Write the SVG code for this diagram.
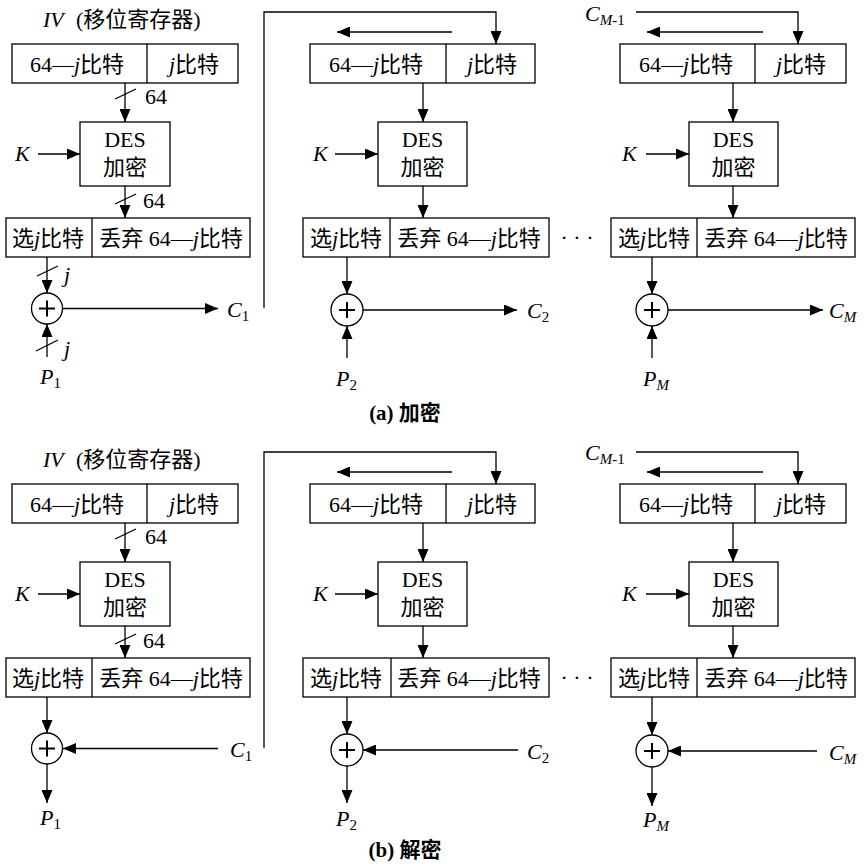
<svg xmlns="http://www.w3.org/2000/svg" width="864" height="864" viewBox="0 0 864 864">
<style>
.t{font-family:"Liberation Serif","Noto Sans CJK SC",serif;font-size:22px;fill:#000}
.i{font-style:italic}
.s{font-size:15px}
.b{font-weight:bold;font-size:21px}
.m{text-anchor:middle}
.bx{fill:#fff;stroke:#000;stroke-width:1.3}
.ln{fill:none;stroke:#000;stroke-width:1.3}
.ar{fill:none;stroke:#000;stroke-width:1.3;marker-end:url(#ah)}
.pl{stroke:#000;stroke-width:2}
</style>
<defs>
<marker id="ah" viewBox="0 0 13 11" refX="13" refY="5.5" markerWidth="13" markerHeight="11" markerUnits="userSpaceOnUse" orient="auto"><path d="M0,0 L13,5.5 L0,11 z" fill="#000"/></marker>
</defs>

<g id="connectors">
<!-- (a) col1 -->
<line class="ar" x1="125" y1="83" x2="125" y2="122"/>
<line class="ln" x1="115" y1="99" x2="136" y2="89"/>
<line class="ar" x1="38" y1="154" x2="80" y2="154"/>
<line class="ar" x1="125" y1="186" x2="125" y2="218"/>
<line class="ln" x1="115" y1="204" x2="136" y2="194"/>
<line class="ar" x1="47" y1="257" x2="47" y2="293"/>
<line class="ln" x1="37" y1="276" x2="58" y2="266"/>
<line class="ar" x1="63" y1="308.5" x2="218" y2="308.5"/>
<line class="ar" x1="47" y1="357" x2="47" y2="324"/>
<line class="ln" x1="36" y1="351" x2="58" y2="340"/>
<polyline class="ar" points="264,308 264,12 496,12 496,44"/>
<!-- (a) col2 -->
<line class="ar" x1="452" y1="32" x2="337" y2="32"/>
<line class="ar" x1="423" y1="83" x2="423" y2="122"/>
<line class="ar" x1="335" y1="154" x2="378" y2="154"/>
<line class="ar" x1="423" y1="186" x2="423" y2="218"/>
<line class="ar" x1="347" y1="257" x2="347" y2="294"/>
<line class="ar" x1="363" y1="310" x2="517" y2="310"/>
<line class="ar" x1="347" y1="358" x2="347" y2="326"/>
<!-- (a) col3 -->
<polyline class="ar" points="636,12 798,12 798,44"/>
<line class="ar" x1="763" y1="32" x2="647" y2="32"/>
<line class="ar" x1="733" y1="83" x2="733" y2="122"/>
<line class="ar" x1="646" y1="154" x2="689" y2="154"/>
<line class="ar" x1="733" y1="186" x2="733" y2="218"/>
<line class="ar" x1="652" y1="257" x2="652" y2="294"/>
<line class="ar" x1="668" y1="310" x2="823" y2="310"/>
<line class="ar" x1="652" y1="358" x2="652" y2="326"/>

<!-- (b) col1 -->
<line class="ar" x1="125" y1="523" x2="125" y2="562"/>
<line class="ln" x1="115" y1="539" x2="136" y2="529"/>
<line class="ar" x1="38" y1="594" x2="80" y2="594"/>
<line class="ar" x1="125" y1="626" x2="125" y2="658"/>
<line class="ln" x1="115" y1="644" x2="136" y2="634"/>
<line class="ar" x1="47" y1="697" x2="47" y2="733"/>
<line class="ar" x1="218" y1="748.5" x2="63" y2="748.5"/>
<line class="ar" x1="47" y1="764" x2="47" y2="803"/>
<polyline class="ar" points="264,748 264,452 496,452 496,484"/>
<!-- (b) col2 -->
<line class="ar" x1="452" y1="472" x2="337" y2="472"/>
<line class="ar" x1="423" y1="523" x2="423" y2="562"/>
<line class="ar" x1="335" y1="594" x2="378" y2="594"/>
<line class="ar" x1="423" y1="626" x2="423" y2="658"/>
<line class="ar" x1="347" y1="697" x2="347" y2="734"/>
<line class="ar" x1="518" y1="750" x2="363" y2="750"/>
<line class="ar" x1="347" y1="766" x2="347" y2="803"/>
<!-- (b) col3 -->
<polyline class="ar" points="636,452 798,452 798,484"/>
<line class="ar" x1="763" y1="472" x2="647" y2="472"/>
<line class="ar" x1="733" y1="523" x2="733" y2="562"/>
<line class="ar" x1="646" y1="594" x2="689" y2="594"/>
<line class="ar" x1="733" y1="626" x2="733" y2="658"/>
<line class="ar" x1="652" y1="697" x2="652" y2="735"/>
<line class="ar" x1="817" y1="751" x2="668" y2="751"/>
<line class="ar" x1="652" y1="767" x2="652" y2="806"/>
</g>

<!-- ===== (a) ===== -->
<g id="a-iv-label"><text class="t" x="43" y="27"><tspan class="i">IV</tspan><tspan x="76">(移位寄存器)</tspan></text></g>
<g id="a-reg1"><rect class="bx" x="12" y="44" width="226" height="39"/><line class="ln" x1="147" y1="44" x2="147" y2="83"/>
<text class="t m" x="77" y="72">64—<tspan class="i">j</tspan>比特</text><text class="t m" x="194" y="72"><tspan class="i">j</tspan>比特</text></g>
<g id="a-w1"><text class="t" x="145" y="104">64</text></g>
<g id="a-des1"><rect class="bx" x="80" y="122" width="90" height="64"/><text class="t m" x="125" y="147">DES</text><text class="t m" x="125" y="175">加密</text></g>
<g id="a-k1"><text class="t i" x="15" y="161">K</text></g>
<g id="a-w2"><text class="t" x="143" y="208">64</text></g>
<g id="a-sel1"><rect class="bx" x="6" y="218" width="244" height="39"/><line class="ln" x1="92" y1="218" x2="92" y2="257"/>
<text class="t m" x="48" y="246">选<tspan class="i">j</tspan>比特</text><text class="t m" x="171" y="246">丢弃 64—<tspan class="i">j</tspan>比特</text></g>
<g id="a-wj1"><text class="t i" x="64" y="282">j</text></g>
<g id="a-xor1"><circle class="bx" cx="47" cy="308.5" r="15.5"/><line class="pl" x1="39" y1="308.5" x2="55" y2="308.5"/><line class="pl" x1="47" y1="300.5" x2="47" y2="316.5"/></g>
<g id="a-c1"><text class="t i" x="227" y="317">C<tspan class="s" font-style="normal" dy="4">1</tspan></text></g>
<g id="a-wj2"><text class="t i" x="64" y="356">j</text></g>
<g id="a-p1"><text class="t i" x="40" y="384">P<tspan class="s" font-style="normal" dy="4">1</tspan></text></g>

<g id="a-reg2"><rect class="bx" x="310" y="44" width="225" height="39"/><line class="ln" x1="446" y1="44" x2="446" y2="83"/>
<text class="t m" x="376" y="72">64—<tspan class="i">j</tspan>比特</text><text class="t m" x="492" y="72"><tspan class="i">j</tspan>比特</text></g>
<g id="a-des2"><rect class="bx" x="378" y="122" width="89" height="64"/><text class="t m" x="422.5" y="147">DES</text><text class="t m" x="422.5" y="175">加密</text></g>
<g id="a-k2"><text class="t i" x="313" y="161">K</text></g>
<g id="a-sel2"><rect class="bx" x="303" y="218" width="246" height="39"/><line class="ln" x1="390" y1="218" x2="390" y2="257"/>
<text class="t m" x="346" y="246">选<tspan class="i">j</tspan>比特</text><text class="t m" x="469" y="246">丢弃 64—<tspan class="i">j</tspan>比特</text></g>
<g id="a-dots"><text class="t m" x="577" y="245">· · ·</text></g>
<g id="a-xor2"><circle class="bx" cx="347" cy="310" r="16"/><line class="pl" x1="339" y1="310" x2="355" y2="310"/><line class="pl" x1="347" y1="302" x2="347" y2="318"/></g>
<g id="a-c2"><text class="t i" x="527" y="318">C<tspan class="s" font-style="normal" dy="4">2</tspan></text></g>
<g id="a-p2"><text class="t i" x="336" y="386">P<tspan class="s" font-style="normal" dy="4">2</tspan></text></g>

<g id="a-cm1"><text class="t i" x="585" y="21">C<tspan class="s" dy="4">M</tspan><tspan class="s" font-style="normal">-1</tspan></text></g>
<g id="a-reg3"><rect class="bx" x="620" y="44" width="226" height="39"/><line class="ln" x1="755" y1="44" x2="755" y2="83"/>
<text class="t m" x="686" y="72">64—<tspan class="i">j</tspan>比特</text><text class="t m" x="801" y="72"><tspan class="i">j</tspan>比特</text></g>
<g id="a-des3"><rect class="bx" x="689" y="122" width="89" height="64"/><text class="t m" x="733.5" y="147">DES</text><text class="t m" x="733.5" y="175">加密</text></g>
<g id="a-k3"><text class="t i" x="622" y="161">K</text></g>
<g id="a-sel3"><rect class="bx" x="611" y="218" width="244" height="39"/><line class="ln" x1="697" y1="218" x2="697" y2="257"/>
<text class="t m" x="654" y="246">选<tspan class="i">j</tspan>比特</text><text class="t m" x="776" y="246">丢弃 64—<tspan class="i">j</tspan>比特</text></g>
<g id="a-xor3"><circle class="bx" cx="652" cy="310" r="16"/><line class="pl" x1="644" y1="310" x2="660" y2="310"/><line class="pl" x1="652" y1="302" x2="652" y2="318"/></g>
<g id="a-cm"><text class="t i" x="829" y="318">C<tspan class="s" dy="4">M</tspan></text></g>
<g id="a-pm"><text class="t i" x="643" y="386">P<tspan class="s" dy="4">M</tspan></text></g>
<g id="a-caption"><text class="t b m" x="405" y="420">(a) 加密</text></g>

<!-- ===== (b) ===== -->
<g id="b-iv-label"><text class="t" x="43" y="467"><tspan class="i">IV</tspan><tspan x="76">(移位寄存器)</tspan></text></g>
<g id="b-reg1"><rect class="bx" x="12" y="484" width="226" height="39"/><line class="ln" x1="147" y1="484" x2="147" y2="523"/>
<text class="t m" x="77" y="512">64—<tspan class="i">j</tspan>比特</text><text class="t m" x="194" y="512"><tspan class="i">j</tspan>比特</text></g>
<g id="b-w1"><text class="t" x="145" y="544">64</text></g>
<g id="b-des1"><rect class="bx" x="80" y="562" width="90" height="64"/><text class="t m" x="125" y="587">DES</text><text class="t m" x="125" y="615">加密</text></g>
<g id="b-k1"><text class="t i" x="15" y="601">K</text></g>
<g id="b-w2"><text class="t" x="143" y="648">64</text></g>
<g id="b-sel1"><rect class="bx" x="6" y="658" width="244" height="39"/><line class="ln" x1="92" y1="658" x2="92" y2="697"/>
<text class="t m" x="48" y="686">选<tspan class="i">j</tspan>比特</text><text class="t m" x="171" y="686">丢弃 64—<tspan class="i">j</tspan>比特</text></g>
<g id="b-xor1"><circle class="bx" cx="47" cy="748.5" r="15.5"/><line class="pl" x1="39" y1="748.5" x2="55" y2="748.5"/><line class="pl" x1="47" y1="740.5" x2="47" y2="756.5"/></g>
<g id="b-c1"><text class="t i" x="230" y="757">C<tspan class="s" font-style="normal" dy="4">1</tspan></text></g>
<g id="b-p1"><text class="t i" x="40" y="825">P<tspan class="s" font-style="normal" dy="4">1</tspan></text></g>

<g id="b-reg2"><rect class="bx" x="310" y="484" width="225" height="39"/><line class="ln" x1="446" y1="484" x2="446" y2="523"/>
<text class="t m" x="376" y="512">64—<tspan class="i">j</tspan>比特</text><text class="t m" x="492" y="512"><tspan class="i">j</tspan>比特</text></g>
<g id="b-des2"><rect class="bx" x="378" y="562" width="89" height="64"/><text class="t m" x="422.5" y="587">DES</text><text class="t m" x="422.5" y="615">加密</text></g>
<g id="b-k2"><text class="t i" x="313" y="601">K</text></g>
<g id="b-sel2"><rect class="bx" x="303" y="658" width="246" height="39"/><line class="ln" x1="391" y1="658" x2="391" y2="697"/>
<text class="t m" x="346" y="686">选<tspan class="i">j</tspan>比特</text><text class="t m" x="469" y="686">丢弃 64—<tspan class="i">j</tspan>比特</text></g>
<g id="b-dots"><text class="t m" x="577" y="685">· · ·</text></g>
<g id="b-xor2"><circle class="bx" cx="347" cy="750" r="16"/><line class="pl" x1="339" y1="750" x2="355" y2="750"/><line class="pl" x1="347" y1="742" x2="347" y2="758"/></g>
<g id="b-c2"><text class="t i" x="527" y="759">C<tspan class="s" font-style="normal" dy="4">2</tspan></text></g>
<g id="b-p2"><text class="t i" x="336" y="826">P<tspan class="s" font-style="normal" dy="4">2</tspan></text></g>

<g id="b-cm1"><text class="t i" x="585" y="460">C<tspan class="s" dy="4">M</tspan><tspan class="s" font-style="normal">-1</tspan></text></g>
<g id="b-reg3"><rect class="bx" x="620" y="484" width="226" height="39"/><line class="ln" x1="755" y1="484" x2="755" y2="523"/>
<text class="t m" x="686" y="512">64—<tspan class="i">j</tspan>比特</text><text class="t m" x="801" y="512"><tspan class="i">j</tspan>比特</text></g>
<g id="b-des3"><rect class="bx" x="689" y="562" width="89" height="64"/><text class="t m" x="733.5" y="587">DES</text><text class="t m" x="733.5" y="615">加密</text></g>
<g id="b-k3"><text class="t i" x="622" y="601">K</text></g>
<g id="b-sel3"><rect class="bx" x="611" y="658" width="244" height="39"/><line class="ln" x1="697" y1="658" x2="697" y2="697"/>
<text class="t m" x="654" y="686">选<tspan class="i">j</tspan>比特</text><text class="t m" x="776" y="686">丢弃 64—<tspan class="i">j</tspan>比特</text></g>
<g id="b-xor3"><circle class="bx" cx="652" cy="751" r="16"/><line class="pl" x1="644" y1="751" x2="660" y2="751"/><line class="pl" x1="652" y1="743" x2="652" y2="759"/></g>
<g id="b-cm"><text class="t i" x="829" y="760">C<tspan class="s" dy="4">M</tspan></text></g>
<g id="b-pm"><text class="t i" x="643" y="827">P<tspan class="s" dy="4">M</tspan></text></g>
<g id="b-caption"><text class="t b m" x="405" y="857">(b) 解密</text></g>
</svg>
